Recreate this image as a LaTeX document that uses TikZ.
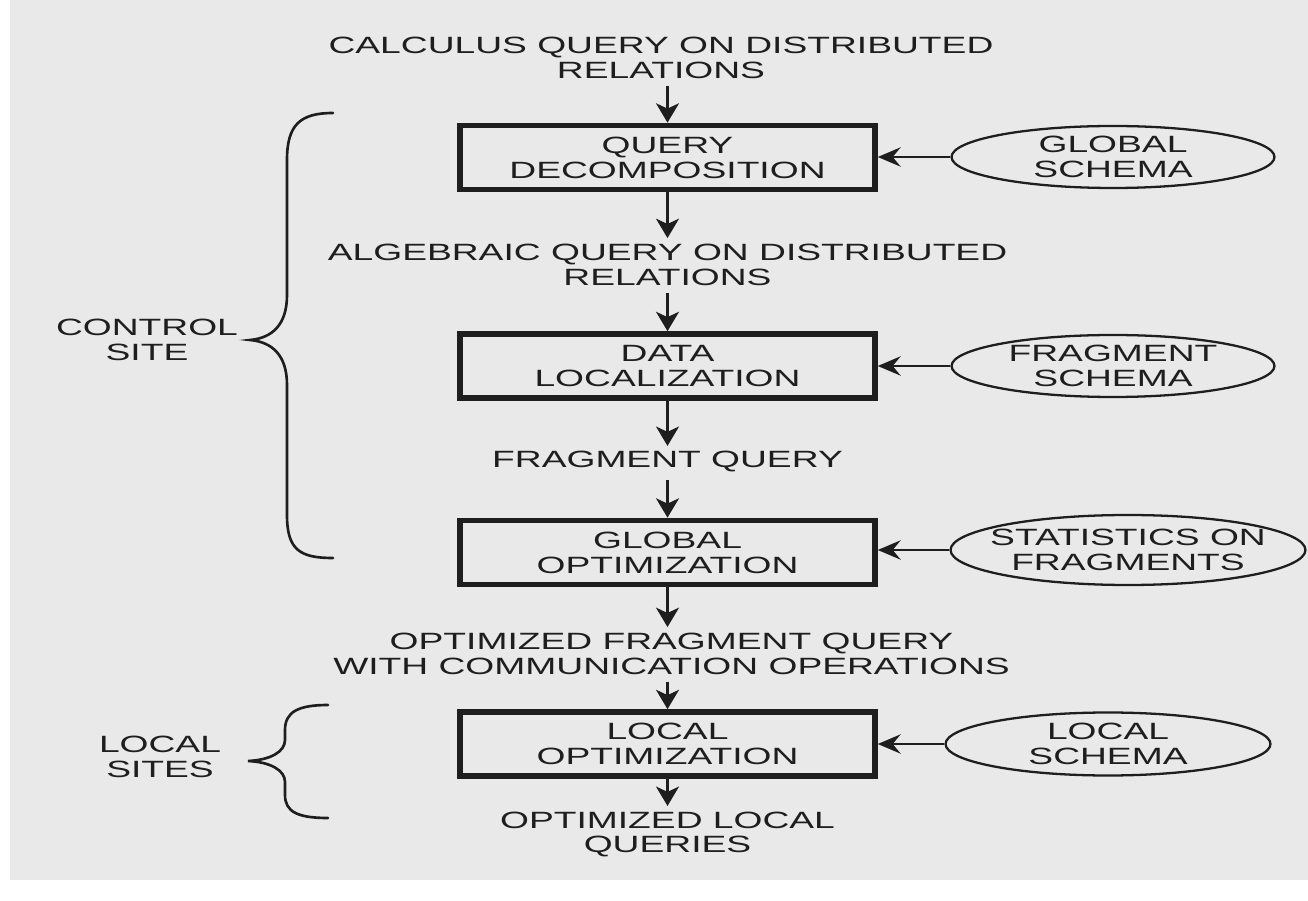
\documentclass[tikz,border=0pt]{standalone}
\usepackage{fontspec}
\setmainfont{Liberation Sans}
\usepackage{graphicx}
\usetikzlibrary{arrows.meta,shapes.geometric}
\definecolor{ink}{HTML}{1E1E1E}
\definecolor{paper}{HTML}{E9E9E9}
\newcommand\wl[1]{\scalebox{1.58}[1]{#1}}
\newcommand\diagfont{\fontsize{13.4pt}{14.2pt}\selectfont}
\tikzset{
  txt/.style={font=\diagfont, text=ink, align=center, inner sep=0pt},
  procbox/.style={draw=ink, line width=3.2pt, minimum width=8.3cm, minimum height=1.28cm, inner sep=0pt, font=\diagfont, text=ink, align=center},
  schema/.style={ellipse, draw=ink, line width=1.3pt, inner sep=0pt},
  varrow/.style={draw=ink, line width=1.7pt, -{Stealth[length=11pt,width=13pt,inset=3pt]}},
  fromtext/.style={shorten <=4pt},
  totext/.style={shorten >=3pt},
  harrow/.style={draw=ink, line width=1.4pt, -{Stealth[length=13pt,width=11pt,inset=4.5pt]}},
  bracepath/.style={draw=ink, line width=1.5pt, line cap=round}
}
\begin{document}
\begin{tikzpicture}[x=0.02cm, y=-0.02cm]
\useasboundingbox (0,0) rectangle (1308,901);
\fill[white] (0,0) rectangle (1308,901);
\fill[paper] (10,0) rectangle (1308,880);

% flow text
\node[txt] (t1) at (661,57.5) {\wl{CALCULUS QUERY ON DISTRIBUTED}\\\wl{RELATIONS}};
\node[procbox] (qd) at (667.5,157.5) {\wl{QUERY}\\\wl{DECOMPOSITION}};
\node[txt] (t2) at (667.5,264.5) {\wl{ALGEBRAIC QUERY ON DISTRIBUTED}\\\wl{RELATIONS}};
\node[procbox] (dl) at (667.5,366) {\wl{DATA}\\\wl{LOCALIZATION}};
\node[txt] (t3) at (667.5,462) {\wl{FRAGMENT QUERY}};
\node[procbox] (go) at (667.5,552.5) {\wl{GLOBAL}\\\wl{OPTIMIZATION}};
\node[txt] (t4) at (671.5,653.5) {\wl{OPTIMIZED FRAGMENT QUERY}\\\wl{WITH COMMUNICATION OPERATIONS}};
\node[procbox] (lo) at (667.5,744) {\wl{LOCAL}\\\wl{OPTIMIZATION}};
\node[txt] (t5) at (667.5,834.5) {\wl{OPTIMIZED LOCAL}\\\wl{QUERIES}};

% schemas
\node[schema, minimum width=6.46cm, minimum height=1.24cm] (gs) at (1113,157) {};
\node[txt] (gst) at (gs) {\wl{GLOBAL}\\\wl{SCHEMA}};
\node[schema, minimum width=6.46cm, minimum height=1.24cm] (fs) at (1113,366) {};
\node[txt] (fst) at (fs) {\wl{FRAGMENT}\\\wl{SCHEMA}};
\node[schema, minimum width=7.1cm, minimum height=1.4cm] (st) at (1128,550) {};
\node[txt] (stt) at (st) {\wl{STATISTICS ON}\\\wl{FRAGMENTS}};
\node[schema, minimum width=6.5cm, minimum height=1.26cm] (ls) at (1108,744) {};
\node[txt] (lst) at (ls) {\wl{LOCAL}\\\wl{SCHEMA}};

% site labels
\node[txt] (cs) at (147,340) {\wl{CONTROL}\\\wl{SITE}};
\node[txt] (lsites) at (160,757) {\wl{LOCAL}\\\wl{SITES}};

% vertical arrows
\draw[varrow, fromtext] (t1.south -| qd.north) -- (qd.north);
\draw[varrow, totext] (qd.south) -- (t2.north -| qd.south);
\draw[varrow, fromtext] (t2.south -| dl.north) -- (dl.north);
\draw[varrow, totext] (dl.south) -- (t3.north -| dl.south);
\draw[varrow, fromtext] (t3.south -| go.north) -- (go.north);
\draw[varrow, totext] (go.south) -- (t4.north -| go.south);
\draw[varrow, fromtext] (t4.south -| lo.north) -- (lo.north);
\draw[varrow, totext] (lo.south) -- (t5.north -| lo.south);

% horizontal arrows
\draw[harrow] (gs.west) -- (gs.west -| qd.east);
\draw[harrow] (fs.west) -- (fs.west -| dl.east);
\draw[harrow] (st.west) -- (st.west -| go.east);
\draw[harrow] (ls.west) -- (ls.west -| lo.east);

% braces
\draw[bracepath] (333,113) .. controls (300,113) and (287,125) .. (287,160) -- (287,295)
  .. controls (287,325) and (272,338) .. (250,340)
  .. controls (272,342) and (287,355) .. (287,385) -- (287,515)
  .. controls (287,550) and (300,558) .. (333,558);
\draw[bracepath] (328,705) .. controls (298,705) and (285,712) .. (285,730) -- (285,740)
  .. controls (285,752) and (270,760) .. (248,761)
  .. controls (270,762) and (285,770) .. (285,782) -- (285,795)
  .. controls (285,812) and (298,818) .. (328,818);
\end{tikzpicture}
\end{document}
